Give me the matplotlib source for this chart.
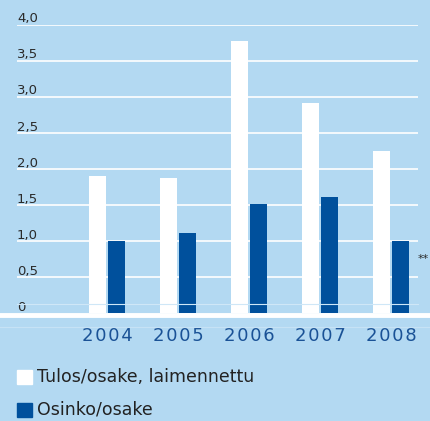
import matplotlib.pyplot as plt
from matplotlib.lines import Line2D
from matplotlib.patches import Rectangle

years = ["2004", "2005", "2006", "2007", "2008"]
tulos = [1.90, 1.87, 3.77, 2.91, 2.24]
osinko = [1.00, 1.11, 1.51, 1.61, 1.00]
yticks = [0, 0.5, 1.0, 1.5, 2.0, 2.5, 3.0, 3.5, 4.0]
ytick_labels = ["0", "0,5", "1,0", "1,5", "2,0", "2,5", "3,0", "3,5", "4,0"]
legend_labels = ["Tulos/osake, laimennettu", "Osinko/osake"]
note = "**"

bg = "#b3d9f2"
blue = "#00509c"
W, H = 431, 421

fig = plt.figure(figsize=(W / 100, H / 100), dpi=100)
fig.patch.set_facecolor(bg)

# axes spans full width; x data unit = one year group (71 px), first group centred at px 107
ax = fig.add_axes([0, 108 / H, 1, (396.5 - 108) / H])
ax.set_facecolor(bg)
px0, step = 107, 71
ax.set_xlim(-px0 / step, (W - px0) / step)
ax.set_ylim(0, 4.0)
ax.axis("off")

x = list(range(len(years)))
bw = 17 / step
off = 9.5 / step
ax.bar([i - off for i in x], tulos, width=bw, color="white", zorder=3)
ax.bar([i + off for i in x], osinko, width=bw, color=blue, zorder=3)

gx0, gx1 = (17 - px0) / step, (418 - px0) / step
for v, lab in zip(yticks, ytick_labels):
    if v > 0:
        ax.hlines(v, gx0, gx1, color="white", lw=1.2, zorder=1)
    ax.text(gx0, v + 0.03, lab, ha="left", va="baseline",
            fontsize=9.5, color="#2a2a2a", zorder=4)

# thick baseline and faint lines across the whole width
fig.add_artist(Line2D([0, 1], [(H - 315) / H] * 2, color="white", lw=3.5))
fig.add_artist(Line2D([17 / W, 418 / W], [(H - 304) / H] * 2, color="#cfe7f7", lw=0.8))
fig.add_artist(Line2D([0, 1], [(H - 327) / H] * 2, color="#c6e2f5", lw=0.8))

# year labels, slightly letter-spaced
for i, y in enumerate(years):
    ax.text(i, -0.32, "\u200a".join(y), ha="center", va="center", fontsize=13,
            color="#1a5296", clip_on=False)

ax.text(gx1, osinko[-1] - 0.25, note, ha="left", va="center", fontsize=8,
        color="#2a2a2a", clip_on=False)

# legend
for k, (lab, col) in enumerate(zip(legend_labels, ["white", blue])):
    ytop = 370 + k * 33
    fig.add_artist(Rectangle((17 / W, (H - ytop - 14) / H), 15 / W, 14 / H,
                             transform=fig.transFigure, color=col))
    fig.text(37 / W, (H - ytop - 7) / H, lab, ha="left", va="center",
             fontsize=12.5, color="#222222")

fig.savefig("out.png", dpi=100, facecolor=bg)
